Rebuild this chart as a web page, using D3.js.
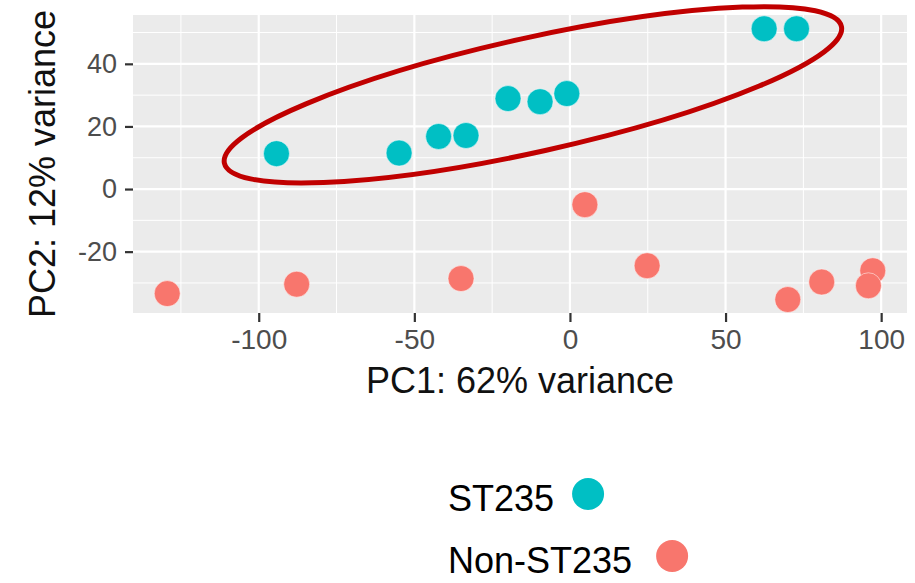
<!DOCTYPE html>
<html>
<head>
    <meta charset="utf-8">
    <title>PCA plot</title>
    <script src="https://d3js.org/d3.v7.min.js"></script>
    <style>
        body { margin: 0; background: #fff; }
        text { font-family: "Liberation Sans", Arial, sans-serif; }
    </style>
</head>
<body>
<script>
    // PC1 / PC2 scores
    var st235X = [-94.3, -54.9, -42.2, -33.4, -19.9, -9.6, -1.0, 62.4, 72.8];
    var st235Y = [11.3, 11.5, 16.8, 17.1, 28.9, 27.9, 30.5, 51.2, 51.2];
    var nonX = [-129.4, -87.8, -35.0, 4.8, 24.8, 70.0, 80.9, 97.3, 95.9];
    var nonY = [-33.4, -30.4, -28.6, -5.0, -24.5, -35.3, -29.7, -26.1, -30.9];

    var xTicks = [-100, -50, 0, 50, 100];
    var xMinor = [-125, -75, -25, 25, 75];
    var yTicks = [-20, 0, 20, 40];
    var yMinor = [-30, -10, 10, 30, 50];

    var groups = ["ST235", "Non-ST235"];
    var groupColors = ["#00BFC4", "#F8766D"];

    var width = 915, height = 583;
    var panel = { left: 133, right: 907, top: 15, bottom: 313 };

    var svg = d3.select("body").append("svg")
        .attr("width", width)
        .attr("height", height);

    var x = d3.scaleLinear().domain([-140.4, 108.3]).range([panel.left, panel.right]);
    var y = d3.scaleLinear().domain([-39.6, 55.6]).range([panel.bottom, panel.top]);

    // panel background
    svg.append("rect")
        .attr("x", panel.left)
        .attr("y", panel.top)
        .attr("width", panel.right - panel.left)
        .attr("height", panel.bottom - panel.top)
        .attr("fill", "#EBEBEB");

    var grid = svg.append("g");

    function vLines(vals, w) {
        grid.selectAll(null).data(vals).enter().append("line")
            .attr("x1", function (d) { return x(d); })
            .attr("x2", function (d) { return x(d); })
            .attr("y1", panel.top)
            .attr("y2", panel.bottom)
            .attr("stroke", "#fff")
            .attr("stroke-width", w);
    }
    function hLines(vals, w) {
        grid.selectAll(null).data(vals).enter().append("line")
            .attr("y1", function (d) { return y(d); })
            .attr("y2", function (d) { return y(d); })
            .attr("x1", panel.left)
            .attr("x2", panel.right)
            .attr("stroke", "#fff")
            .attr("stroke-width", w);
    }
    vLines(xMinor, 1);
    hLines(yMinor, 1);
    vLines(xTicks, 2.2);
    hLines(yTicks, 2.2);

    // axes (plain hyphen for negatives, like the original)
    var fmt = function (d) { return String(d); };
    var xAxis = svg.append("g")
        .attr("transform", "translate(0," + panel.bottom + ")")
        .call(d3.axisBottom(x).tickValues(xTicks).tickFormat(fmt).tickSize(9).tickPadding(7));
    var yAxis = svg.append("g")
        .attr("transform", "translate(" + panel.left + ",0)")
        .call(d3.axisLeft(y).tickValues(yTicks).tickFormat(fmt).tickSize(8).tickPadding(8));

    [xAxis, yAxis].forEach(function (ax) {
        ax.select(".domain").remove();
        ax.selectAll(".tick line").attr("stroke", "#333").attr("stroke-width", 2.2);
        ax.selectAll(".tick text")
            .attr("fill", "#4D4D4D")
            .style("font-family", "'Liberation Sans', Arial, sans-serif");
    });
    xAxis.selectAll(".tick text").style("font-size", "28px");
    yAxis.selectAll(".tick text").style("font-size", "27px");

    // axis titles
    svg.append("text")
        .attr("x", (panel.left + panel.right) / 2)
        .attr("y", 393)
        .attr("text-anchor", "middle")
        .style("font-size", "36px")
        .attr("fill", "#111")
        .text("PC1: 62% variance");

    svg.append("text")
        .attr("transform", "translate(55," + ((panel.top + panel.bottom) / 2) + ") rotate(-90)")
        .attr("text-anchor", "middle")
        .style("font-size", "36px")
        .attr("fill", "#111")
        .text("PC2: 12% variance");

    // points
    var pts = [];
    st235X.forEach(function (v, i) { pts.push({ x: v, y: st235Y[i], g: 0 }); });
    nonX.forEach(function (v, i) { pts.push({ x: v, y: nonY[i], g: 1 }); });

    svg.append("g").selectAll("circle")
        .data(pts)
        .enter()
        .append("circle")
        .attr("cx", function (d) { return x(d.x); })
        .attr("cy", function (d) { return y(d.y); })
        .attr("r", 13)
        .attr("fill", function (d) { return groupColors[d.g]; })
        .attr("stroke", "#fff")
        .attr("stroke-opacity", 0.5)
        .attr("stroke-width", 1);

    // red ring drawn round the ST235 group (centre in data units)
    var ring = { cx: -11.9, cy: 30.1, rx: 316, ry: 57, angle: -12.5 };
    svg.append("ellipse")
        .attr("transform", "translate(" + x(ring.cx) + "," + y(ring.cy) + ") rotate(" + ring.angle + ")")
        .attr("rx", ring.rx)
        .attr("ry", ring.ry)
        .attr("fill", "none")
        .attr("stroke", "#C00000")
        .attr("stroke-width", 5);

    // legend
    var legendY = [511, 573];
    var gaps = [18, 24];
    groups.forEach(function (name, i) {
        var t = svg.append("text")
            .attr("x", 448)
            .attr("y", legendY[i])
            .style("font-size", "36px")
            .attr("fill", "#000")
            .text(name);
        var w = t.node().getComputedTextLength();
        svg.append("circle")
            .attr("cx", 448 + w + gaps[i] + 16)
            .attr("cy", legendY[i] - 17)
            .attr("r", 16)
            .attr("fill", groupColors[i]);
    });
</script>
</body>
</html>
